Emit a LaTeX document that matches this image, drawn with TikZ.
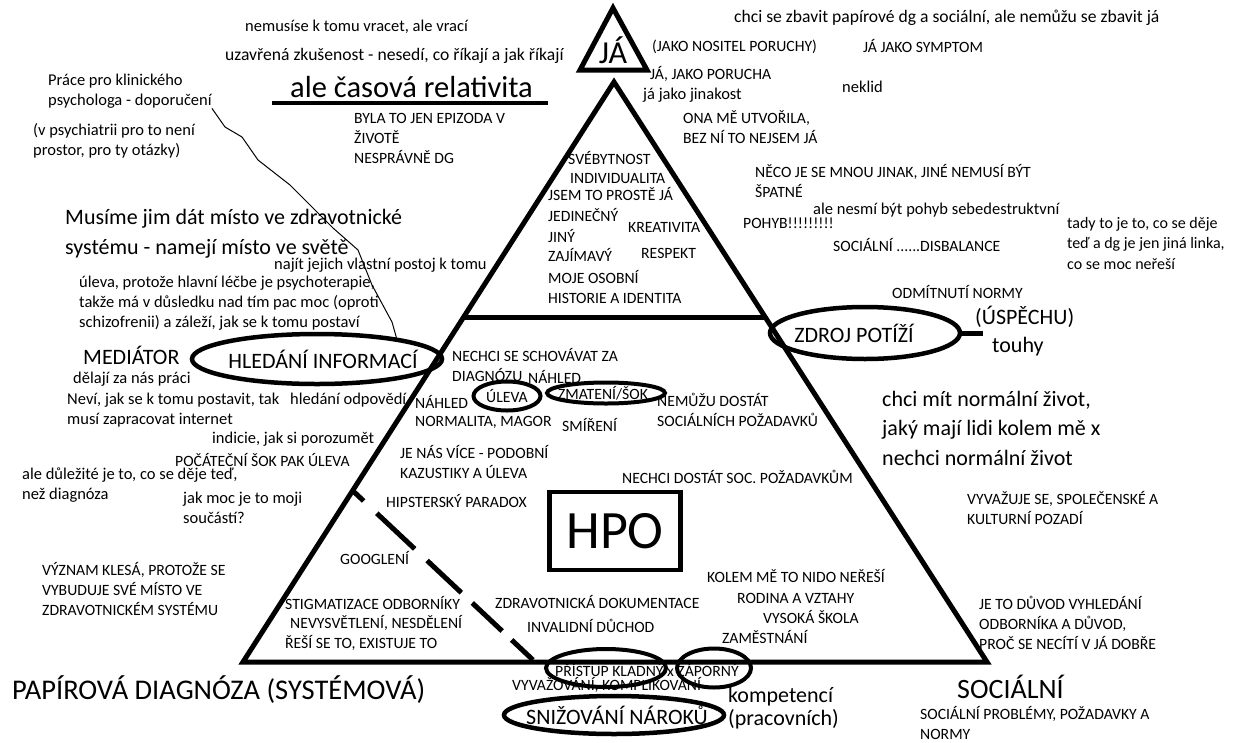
\documentclass[tikz,border=0pt]{standalone}
\usepackage{fontspec}
\setmainfont{Carlito}
\usetikzlibrary{shapes.geometric}
\begin{document}
\begin{tikzpicture}[x=1pt,y=-1pt,font=\fontsize{16.5}{20}\selectfont]
  \tikzstyle{txtnode}=[anchor=west, inner sep=0pt, align=left]
  \tikzstyle{capnode}=[txtnode, font=\fontsize{15.7}{20}\selectfont]
  \tikzstyle{bignode}=[txtnode, font=\fontsize{22}{30}\selectfont]
  \tikzstyle{ringnode}=[draw, ellipse, line width=4.5pt, inner sep=0pt]
  \tikzstyle{ringlabel}=[font=\fontsize{22}{26}\selectfont]
  \tikzstyle{smalllabel}=[font=\fontsize{15.7}{20}\selectfont]
  \tikzstyle{edgeline}=[line width=5pt]
  \useasboundingbox (0,0) rectangle (1242,742);
  \coordinate (apex) at (614,82);
  \coordinate (baseleft) at (243,662);
  \coordinate (baseright) at (987,662);
  \draw[edgeline] (apex) -- (baseleft) -- (baseright) -- cycle;
  \draw[edgeline] (464,317) -- (765,317);
  \draw[edgeline] (613,8) -- (580,70) -- (647,70) -- cycle;
  \node[font=\fontsize{32}{36}\selectfont, inner sep=0pt] (ja) at (613,50) {JÁ};
  \node[txtnode] (nemusi) at (245,27) {nemusíse k tomu vracet, ale vrací};
  \node[txtnode, font=\fontsize{17.6}{20}\selectfont] (uzavrena) at (225,56) {uzavřená zkušenost - nesedí, co říkají a jak říkají};
  \node[txtnode, font=\fontsize{30.5}{34}\selectfont] (relativita) at (290,87) {ale časová relativita};
  \draw[line width=4pt] (272,103) -- (548,103);
  \node[txtnode] (prace) at (48,91) {Práce pro klinického\\psychologa - doporučení};
  \node[txtnode] (psychiatrie) at (33,141) {(v psychiatrii pro to není\\prostor, pro ty otázky)};
  \node[capnode] (epizoda) at (354,138) {BYLA TO JEN EPIZODA V\\ŽIVOTĚ\\NESPRÁVNĚ DG};
  \node[txtnode, font=\fontsize{17.6}{20}\selectfont] (zbavit) at (734,18) {chci se zbavit papírové dg a sociální, ale nemůžu se zbavit já};
  \node[capnode] (nositel) at (652,47) {(JAKO NOSITEL PORUCHY)};
  \node[capnode] (symptom) at (863,46) {JÁ JAKO SYMPTOM};
  \node[capnode] (porucha) at (650,74) {JÁ, JAKO PORUCHA};
  \node[txtnode] (jinakost) at (643,95) {já jako jinakost};
  \node[txtnode] (neklid) at (842,87) {neklid};
  \node[capnode] (utvorila) at (683,127) {ONA MĚ UTVOŘILA,\\BEZ NÍ TO NEJSEM JÁ};
  \node[capnode] (jinak) at (755,181) {NĚCO JE SE MNOU JINAK, JINÉ NEMUSÍ BÝT\\ŠPATNÉ};
  \node[txtnode] (nesmi) at (813,210) {ale nesmí být pohyb sebedestruktvní};
  \node[capnode] (pohyb) at (743,223) {POHYB!!!!!!!!!};
  \node[capnode] (disbalance) at (833,245) {SOCIÁLNÍ ......DISBALANCE};
  \node[txtnode, font=\fontsize{16}{20.5}\selectfont] (tady) at (1067,243) {tady to je to, co se děje\\teď a dg je jen jiná linka,\\co se moc neřeší};
  \node[capnode] (svebytnost) at (568,158) {SVÉBYTNOST};
  \node[capnode] (individualita) at (570,179) {INDIVIDUALITA};
  \node[capnode] (prosteja) at (548,194) {JSEM TO PROSTĚ JÁ};
  \node[capnode] (jedinecny) at (548,215) {JEDINEČNÝ};
  \node[capnode] (kreativita) at (628,227) {KREATIVITA};
  \node[capnode] (jiny) at (548,236) {JINÝ};
  \node[capnode] (zajimavy) at (548,255) {ZAJÍMAVÝ};
  \node[capnode] (respekt) at (641,253) {RESPEKT};
  \node[capnode] (identita) at (548,287) {MOJE OSOBNÍ\\HISTORIE A IDENTITA};
  \node[bignode] (misto) at (65,234) {Musíme jim dát místo ve zdravotnické\\systému - namejí místo ve světě};
  \node[txtnode] (postoj) at (274,265) {najít jejich vlastní postoj k tomu};
  \node[txtnode] (lecba) at (79,303) {úleva, protože hlavní léčbe je psychoterapie,\\takže má v důsledku nad tím pac moc (oproti\\schizofrenii) a záleží, jak se k tomu postaví};
  \node[bignode] (mediator) at (83,355) {MEDIÁTOR};
  \node[ringnode, minimum width=250pt, minimum height=50pt, label={[ringlabel, xshift=6pt]center:HLEDÁNÍ INFORMACÍ}] (hledani) at (317,359) {};
  \node[txtnode] (praci) at (73,379) {dělají za nás práci};
  \node[txtnode] (nevi) at (67,410) {Neví, jak se k tomu postavit, tak\\musí zapracovat internet};
  \node[txtnode] (odpovedi) at (290,400) {hledání odpovědí};
  \node[txtnode] (indicie) at (212,439) {indicie, jak si porozumět};
  \node[capnode] (pocatecni) at (175,460) {POČÁTEČNÍ ŠOK PAK ÚLEVA};
  \node[txtnode] (dulezite) at (22,485) {ale důležité je to, co se děje teď,\\než diagnóza};
  \node[txtnode] (soucasti) at (183,508) {jak moc je to moji\\součástí?};
  \node[capnode] (vyznam) at (42,589) {VÝZNAM KLESÁ, PROTOŽE SE\\VYBUDUJE SVÉ MÍSTO VE\\ZDRAVOTNICKÉM SYSTÉMU};
  \draw[line width=1pt] (prace.south east) -- (225,127) -- (242,137) -- (258,160) -- (290,185) -- (333,228) -- (358,250) -- (372,285) -- (392,322) -- (hledani.15);
  \node[capnode] (schovavat) at (452,365) {NECHCI SE SCHOVÁVAT ZA\\DIAGNÓZU};
  \node[capnode] (nahledtop) at (528,377) {NÁHLED};
  \node[ringnode, line width=4pt, minimum width=67pt, minimum height=29pt, label={[smalllabel]center:ÚLEVA}] (uleva) at (507,396) {};
  \node[ringnode, line width=4pt, minimum width=118pt, minimum height=21pt, label={[smalllabel, xshift=-3pt]center:ZMATENÍ/ŠOK}] (zmateni) at (606,393) {};
  \node[capnode] (nahled) at (415,402) {NÁHLED};
  \node[capnode] (normalita) at (415,422) {NORMALITA, MAGOR};
  \node[capnode] (smireni) at (562,425) {SMÍŘENÍ};
  \node[capnode] (nemuzu) at (657,410) {NEMŮŽU DOSTÁT\\SOCIÁLNÍCH POŽADAVKŮ};
  \node[capnode] (vice) at (400,462) {JE NÁS VÍCE - PODOBNÍ\\KAZUSTIKY A ÚLEVA};
  \node[capnode] (nechcidostat) at (622,477) {NECHCI DOSTÁT SOC. POŽADAVKŮM};
  \node[capnode] (hipster) at (386,501) {HIPSTERSKÝ PARADOX};
  \node[draw, line width=4.5pt, minimum width=131pt, minimum height=78pt, inner sep=0pt, font=\fontsize{54}{60}\selectfont] (hpo) at (615,531) {HPO};
  \node[capnode] (googleni) at (340,558) {GOOGLENÍ};
  \node[capnode] (stigma) at (285,603) {STIGMATIZACE ODBORNÍKY};
  \node[capnode] (nesdeleni) at (290,623) {NEVYSVĚTLENÍ, NESDĚLENÍ};
  \node[capnode] (existuje) at (285,643) {ŘEŠÍ SE TO, EXISTUJE TO};
  \node[capnode] (dokumentace) at (495,602) {ZDRAVOTNICKÁ DOKUMENTACE};
  \node[capnode] (duchod) at (527,626) {INVALIDNÍ DŮCHOD};
  \node[capnode] (nido) at (707,576) {KOLEM MĚ TO NIDO NEŘEŠÍ};
  \node[capnode] (rodina) at (737,598) {RODINA A VZTAHY};
  \node[capnode] (skola) at (763,617) {VYSOKÁ ŠKOLA};
  \node[capnode] (zamestnani) at (722,637) {ZAMĚSTNÁNÍ};
  \coordinate (dashstart) at (352,490);
  \coordinate (dashend) at (533,660);
  \draw[edgeline, dash pattern=on 16pt off 18pt on 52pt off 17pt on 47pt off 15pt on 41pt off 13pt on 30pt off 30pt] (dashstart) -- (dashend);
  \node[capnode] (pristup) at (555,670) {PŘÍSTUP KLADNÝ x ZÁPORNÝ};
  \node[capnode] (vyvazovani) at (512,685) {VYVAŽOVÁNÍ, KOMPLIKOVÁNÍ};
  \node[ringnode, line width=4pt, minimum width=120pt, minimum height=38pt] (kladny) at (606,668) {};
  \node[ringnode, line width=4pt, minimum width=74pt, minimum height=39pt] (zaporny) at (714,668) {};
  \node[ringnode, minimum width=220pt, minimum height=38pt, label={[ringlabel, xshift=3pt]center:SNIŽOVÁNÍ NÁROKŮ}] (snizovani) at (614,715) {};
  \node[txtnode, font=\fontsize{22}{23}\selectfont] (kompetenci) at (728,708) {kompetencí\\(pracovních)};
  \node[txtnode, font=\fontsize{28.5}{32}\selectfont] (papirova) at (12,690) {PAPÍROVÁ DIAGNÓZA (SYSTÉMOVÁ)};
  \node[txtnode, font=\fontsize{28}{32}\selectfont] (socialni) at (957,687) {SOCIÁLNÍ};
  \node[capnode] (problemy) at (920,723) {SOCIÁLNÍ PROBLÉMY, POŽADAVKY A\\NORMY};
  \node[capnode] (duvod) at (979,623) {JE TO DŮVOD VYHLEDÁNÍ\\ODBORNÍKA A DŮVOD,\\PROČ SE NECÍTÍ V JÁ DOBŘE};
  \node[capnode] (pozadi) at (967,508) {VYVAŽUJE SE, SPOLEČENSKÉ A\\KULTURNÍ POZADÍ};
  \node[txtnode, font=\fontsize{22}{29.5}\selectfont] (normalni) at (882,428) {chci mít normální život,\\jaký mají lidi kolem mě x\\nechci normální život};
  \node[ringnode, minimum width=190pt, minimum height=52pt, label={[ringlabel, xshift=-11pt]center:ZDROJ POTÍŽÍ}] (zdroj) at (865,333) {};
  \coordinate (uspechstub) at (983,333);
  \draw[edgeline] (zdroj.east) -- (uspechstub);
  \node[capnode] (odmitnuti) at (892,292) {ODMÍTNUTÍ NORMY};
  \node[bignode] (uspechu) at (975,317) {(ÚSPĚCHU)};
  \node[bignode] (touhy) at (992,347) {touhy};
\end{tikzpicture}
\end{document}
